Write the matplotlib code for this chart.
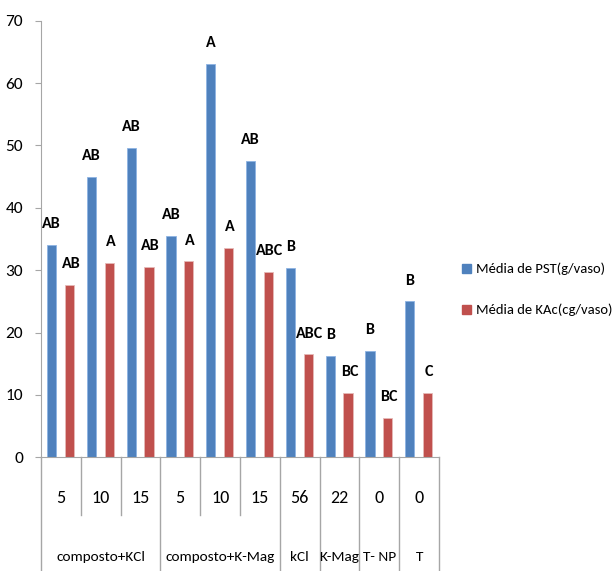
import matplotlib
matplotlib.use("Agg")
import matplotlib.pyplot as plt
import numpy as np
from matplotlib.lines import Line2D
from matplotlib.patches import Patch

plt.rcParams["font.family"] = ["Carlito", "DejaVu Sans"]

# data
categories = ["5", "10", "15", "5", "10", "15", "56", "22", "0", "0"]
group_names = ["composto+KCl", "composto+K-Mag", "kCl", "K-Mag", "T- NP", "T"]
group_sizes = [3, 3, 1, 1, 1, 1]
pst = [34.0, 44.9, 49.6, 35.5, 63.1, 47.5, 30.3, 16.2, 17.1, 25.0]
kac = [27.6, 31.1, 30.5, 31.4, 33.5, 29.7, 16.5, 10.3, 6.3, 10.3]
pst_letters = ["AB", "AB", "AB", "AB", "A", "AB", "B", "B", "B", "B"]
kac_letters = ["AB", "A", "AB", "A", "A", "ABC", "ABC", "BC", "BC", "C"]
series_names = ["Média de PST(g/vaso)", "Média de KAc(cg/vaso)"]

BLUE = "#4F81BD"
RED = "#C0504D"
GRAY = "#A6A6A6"

fig = plt.figure(figsize=(6.15, 5.71), dpi=100)
ax = fig.add_axes([0.0667, 0.1991, 0.6471, 0.7646])

x = np.arange(len(categories)) + 0.5
w = 0.23
ax.bar(x - 0.235, pst, width=w, color=BLUE, edgecolor="#8EB4E3", linewidth=0.6)
ax.bar(x + 0.215, kac, width=w, color=RED, edgecolor="#E6B9B8", linewidth=0.6)

for xi, v, s in zip(x - 0.235, pst, pst_letters):
    ax.annotate(s, (xi, v), xytext=(0, 10), textcoords="offset points",
                ha="center", va="bottom", fontsize=11.5, fontweight="bold")
for xi, v, s in zip(x + 0.215, kac, kac_letters):
    ax.annotate(s, (xi, v), xytext=(1, 10), textcoords="offset points",
                ha="center", va="bottom", fontsize=11.5, fontweight="bold")

ax.set_xlim(0, len(categories))
ax.set_ylim(0, 70)
ax.set_yticks(np.arange(0, 71, 10))
ax.tick_params(axis="y", length=4, color=GRAY, labelsize=12.5, pad=9)
ax.set_xticks([])
for side in ["top", "right"]:
    ax.spines[side].set_visible(False)
ax.spines["left"].set_color(GRAY)
ax.spines["bottom"].set_color(GRAY)

# two-level category axis
tr = ax.get_xaxis_transform()
row1_bottom = -0.132
bottom = -0.262
bounds = np.cumsum([0] + group_sizes)
for k in range(len(categories) + 1):
    y0 = bottom if k in bounds else row1_bottom
    ax.add_line(Line2D([k, k], [0, y0], transform=tr, color=GRAY, lw=1, clip_on=False))
for xi, lab in zip(x, categories):
    ax.text(xi, -0.093, lab, transform=tr, ha="center", va="center", fontsize=13)
for name, a, b in zip(group_names, bounds[:-1], bounds[1:]):
    ax.text((a + b) / 2, -0.229, name, transform=tr, ha="center", va="center", fontsize=11)

handles = [Patch(color=BLUE), Patch(color=RED)]
fig.legend(handles, series_names, loc="center left", bbox_to_anchor=(0.752, 0.493),
           frameon=False, fontsize=10.5, handlelength=0.6, handleheight=0.6,
           handletextpad=0.35, labelspacing=1.95, borderpad=0, borderaxespad=0)

fig.savefig("out.png", dpi=100)
